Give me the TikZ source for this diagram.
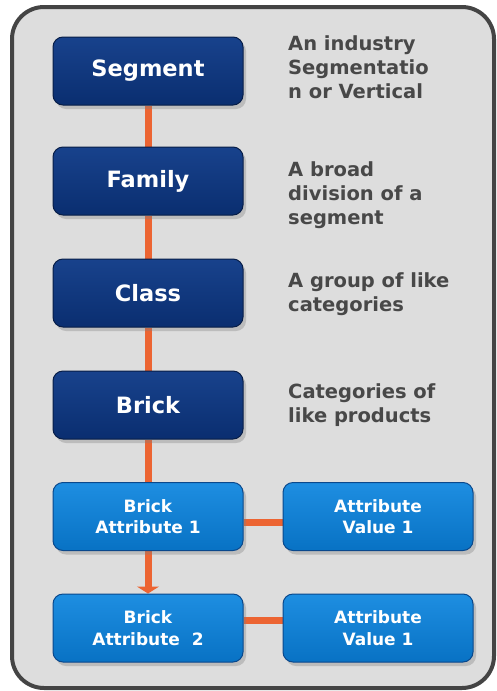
\documentclass[tikz,border=0pt]{standalone}
\usepackage{fontspec}
\setmainfont{DejaVu Sans}
\usetikzlibrary{shadows,arrows.meta}
\pgfdeclarelayer{back}
\pgfdeclarelayer{mid}
\pgfsetlayers{back,mid,main}
\definecolor{framegray}{RGB}{68,68,68}
\definecolor{bggray}{RGB}{221,221,221}
\definecolor{navytop}{RGB}{24,66,140}
\definecolor{navybot}{RGB}{10,46,112}
\definecolor{navyedge}{RGB}{8,30,72}
\definecolor{bluetop}{RGB}{30,142,225}
\definecolor{bluebot}{RGB}{8,114,196}
\definecolor{blueedge}{RGB}{10,72,140}
\definecolor{linkorange}{RGB}{236,100,50}
\definecolor{desctext}{RGB}{72,72,72}
\tikzset{
  boxbase/.style={rectangle, rounded corners=10pt, minimum width=190pt, minimum height=68pt,
    inner sep=0pt, text=white, align=center, line width=1pt,
    drop shadow={shadow xshift=3pt, shadow yshift=-4pt, opacity=0.35}},
  darkbox/.style={boxbase, draw=navyedge, top color=navytop, bottom color=navybot,
    font=\fontsize{22.5}{26}\selectfont\bfseries},
  lightbox/.style={boxbase, draw=blueedge, top color=bluetop, bottom color=bluebot,
    font=\fontsize{17}{21.5}\selectfont\bfseries},
  desc/.style={anchor=north west, inner sep=0pt, align=left, text=desctext,
    font=\fontsize{19.5}{24}\selectfont\bfseries},
  link/.style={draw=linkorange, line width=7pt},
}
\begin{document}
\begin{tikzpicture}[x=1pt,y=-1pt]
\useasboundingbox (0,0) rectangle (497,691);
\begin{pgfonlayer}{back}
\draw[line width=4pt, draw=framegray, fill=bggray, rounded corners=32pt] (12,7) rectangle (494,688);
\end{pgfonlayer}

\node[darkbox] (seg) at (148,71) {Segment};
\node[darkbox] (fam) at (148,181) {Family};
\node[darkbox] (cls) at (148,293) {Class};
\node[darkbox] (brk) at (148,405) {Brick};
\node[lightbox] (ba1) at (148,516.5) {Brick\\Attribute 1};
\node[lightbox] (ba2) at (148,628) {Brick\\Attribute\ \ 2};
\node[lightbox] (av1) at (378,516.5) {Attribute\\Value 1};
\node[lightbox] (av2) at (378,628) {Attribute\\Value 1};

\begin{pgfonlayer}{mid}
\draw[link] (seg.south) -- (fam.north);
\draw[link] (fam.south) -- (cls.north);
\draw[link] (cls.south) -- (brk.north);
\draw[link] (brk.south) -- (ba1.north);
\draw[link, -{Triangle[width=22pt,length=7pt]}] (ba1.south) -- (ba2.north);
\draw[link] ([yshift=-5.5pt]ba1.east) -- ([yshift=-5.5pt]av1.west);
\draw[link] ([yshift=8pt]ba2.east) -- ([yshift=8pt]av2.west);
\end{pgfonlayer}

\node[desc] (d1) at (288,35) {An industry\\Segmentatio\\n or Vertical};
\node[desc] (d2) at (288,161) {A broad\\division of a\\segment};
\node[desc] (d3) at (288,272) {A group of like\\categories};
\node[desc] (d4) at (288,383) {Categories of\\like products};
\end{tikzpicture}
\end{document}
